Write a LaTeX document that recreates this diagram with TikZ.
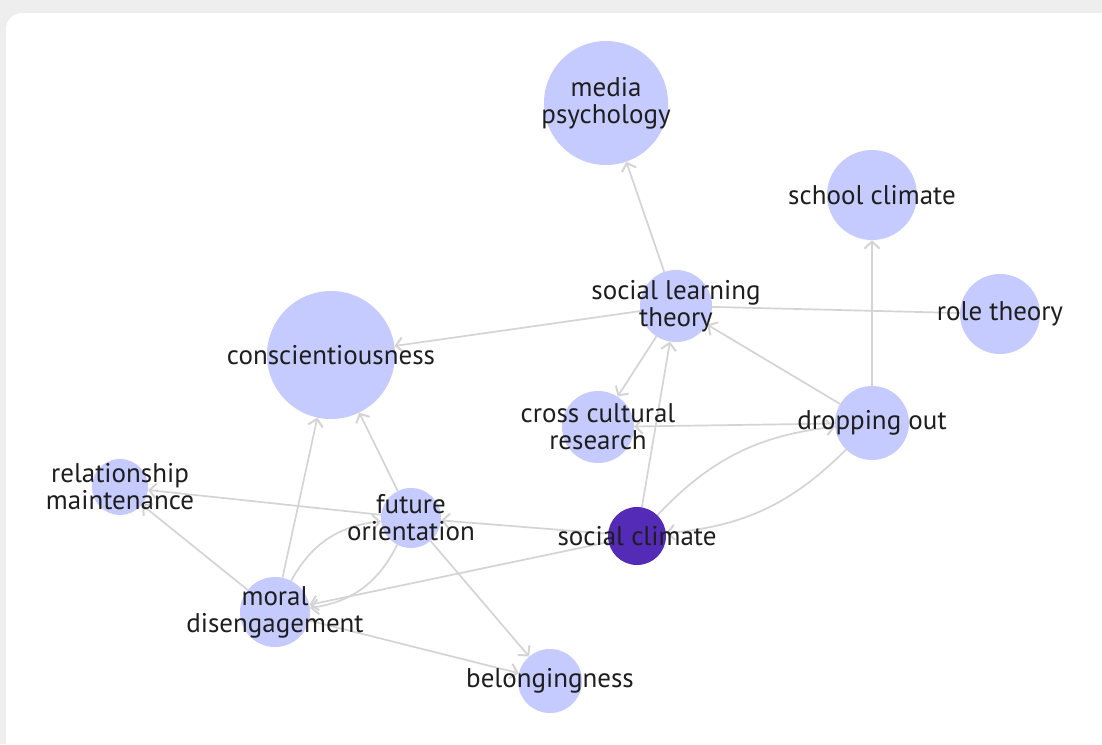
\documentclass[tikz,border=0pt]{standalone}
\usepackage{fontspec}
\setmainfont{PT Sans}
\usetikzlibrary{arrows.meta}
\usetikzlibrary{backgrounds}
\definecolor{topicblue}{RGB}{197,202,255}
\definecolor{hubpurple}{RGB}{84,43,182}
\definecolor{linkgray}{RGB}{212,212,212}
\definecolor{labelink}{RGB}{30,30,30}
\definecolor{chrome}{RGB}{238,238,238}
\pgfdeclarelayer{frame}
\pgfsetlayers{frame,background,main}

\begin{document}
\begin{tikzpicture}[x=1pt,y=-1pt]
\tikzstyle{topic}=[shape=circle,fill=topicblue,inner sep=0pt]
\tikzstyle{hub}=[shape=circle,fill=hubpurple,inner sep=0pt]
\tikzstyle{lbl}=[align=center,text=labelink,inner sep=0pt,
  font=\fontsize{27}{27}\selectfont]
\tikzstyle{link}=[draw=linkgray,line width=1.7pt,
  -{Straight Barb[length=7pt,width=15pt,line width=2pt]}]
\tikzstyle{plain}=[draw=linkgray,line width=1.7pt]

\useasboundingbox (0,0) rectangle (1102,744);

% window frame
\begin{pgfonlayer}{frame}
\fill[chrome] (0,0) rectangle (1102,744);
\fill[white,rounded corners=16pt] (6,13) rectangle (1140,780);
\end{pgfonlayer}

% top row
\draw (606,103) node[topic,minimum size=124pt,label={[lbl]center:{media\\psychology}}] (media) {}; % media psychology
\draw (872,195) node[topic,minimum size=90pt,label={[lbl]center:{school climate}}] (school) {}; % school climate
\draw (1000,314) node[topic,minimum size=80pt,label={[lbl]center:{role theory}}] (role) {}; % role theory
\draw (676,306) node[topic,minimum size=72pt,label={[lbl]center:{social learning\\theory}}] (slt) {}; % social learning theory

% middle
\draw (331,355) node[topic,minimum size=128pt,label={[lbl]center:{conscientiousness}}] (consc) {}; % conscientiousness
\draw (598,427) node[topic,minimum size=72pt,label={[lbl]center:{cross cultural\\research}}] (ccr) {}; % cross cultural research
\draw (872,423) node[topic,minimum size=74pt,label={[lbl]center:{dropping out}}] (drop) {}; % dropping out

% lower part
\draw (120,487) node[topic,minimum size=56pt,label={[lbl]center:{relationship\\maintenance}}] (relmaint) {}; % relationship maintenance
\draw (411,518) node[topic,minimum size=60pt,label={[lbl]center:{future\\orientation}}] (future) {}; % future orientation
\draw (637,536) node[hub,minimum size=58pt,label={[lbl]center:{social climate}}] (socclim) {}; % social climate
\draw (275,612) node[topic,minimum size=70pt,label={[lbl]center:{moral\\disengagement}}] (moral) {}; % moral disengagement
\draw (550,681) node[topic,minimum size=64pt,label={[lbl]center:{belongingness}}] (belong) {}; % belongingness

\begin{pgfonlayer}{background}
\draw[link] (slt) -- (media);
\draw[link] (slt) -- (consc);
\draw[plain] (role) -- (slt);
\draw[link] (drop) -- (school);
\draw[link] (drop) -- (slt);
\draw[link] (drop) -- (ccr);
\draw[link] (slt) -- (ccr);
\draw[link] (socclim) -- (slt);
\draw[link] (socclim) to[bend left=20] (drop);
\draw[link] (drop) to[bend left=20] (socclim);
\draw[link] (socclim) -- (future);
\draw[link] (socclim) -- (moral);
\draw[link] (future) -- (relmaint);
\draw[link] (moral) -- (relmaint);
\draw[link] (future) -- (consc);
\draw[link] (moral) -- (consc);
\draw[link] (moral) to[bend left=28] (future);
\draw[link] (future) to[bend left=28] (moral);
\draw[link] (future) -- (belong);
\draw[link] (moral) -- (belong);
\end{pgfonlayer}
\end{tikzpicture}
\end{document}
